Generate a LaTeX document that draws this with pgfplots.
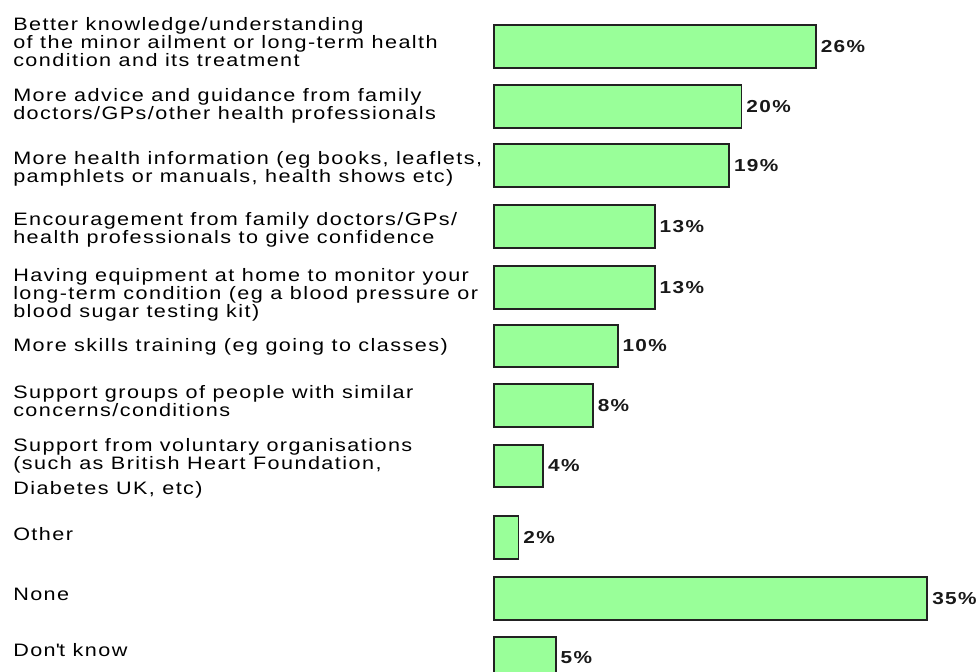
\documentclass[border=0pt]{standalone}
\usepackage{pgfplots}
\pgfplotsset{compat=1.18}
\usepackage{fontspec}
\setmainfont{Liberation Sans}[FakeStretch=1.2, LetterSpace=8]
\definecolor{barGreen}{HTML}{99FF99}
\definecolor{barEdge}{HTML}{222222}
\begin{document}
\begin{tikzpicture}
\begin{axis}[
  scale only axis,
  width=732.75pt, height=504pt,
  xmin=-39.85, xmax=39.01,
  ymin=0, ymax=672, y dir=reverse,
  axis line style={draw=none},
  xtick=\empty,
  major tick length=0pt,
  tick style={draw=none},
  /pgf/number format/assume math mode=true,
  ytick={17,88,151,212,268,338,385,438,527,588,643},
  yticklabels={
    {Better knowledge/understanding\\of the minor ailment or long-term health\\condition and its treatment},
    {More advice and guidance from family\\doctors/GPs/other health professionals},
    {More health information (eg books, leaflets,\\pamphlets or manuals, health shows etc)},
    {Encouragement from family doctors/GPs/\\health professionals to give confidence},
    {Having equipment at home to monitor your\\long-term condition (eg a blood pressure or\\blood sugar testing kit)},
    {More skills training (eg going to classes)},
    {Support groups of people with similar\\concerns/conditions},
    {Support from voluntary organisations\\(such as British Heart Foundation,\\[5pt]Diabetes UK, etc)},
    {Other},
    {None},
    {Don\textquotesingle t know}
  },
  yticklabel style={anchor=north west, align=left, inner sep=0pt, xshift=9.75pt,
    font=\fontsize{13.5pt}{10.9pt}\selectfont},
  xbar,
  bar width=42.5,
  point meta=x,
  nodes near coords={\pgfmathprintnumber{\pgfplotspointmeta}\%},
  nodes near coords align={horizontal},
  every node near coord/.append style={font=\fontsize{13pt}{13pt}\selectfont\bfseries, inner sep=0pt, xshift=3pt, text=black!90},
]
\addplot[fill=barGreen, draw=barEdge, line width=1.4pt] coordinates {
  (26,46.5) (20,106.5) (19,165.5) (13,226.5) (13,287.5) (10,346)
  (8,405.5) (4,466) (2,537.5) (35,598.5) (5,658)
};
\end{axis}
\end{tikzpicture}
\end{document}
